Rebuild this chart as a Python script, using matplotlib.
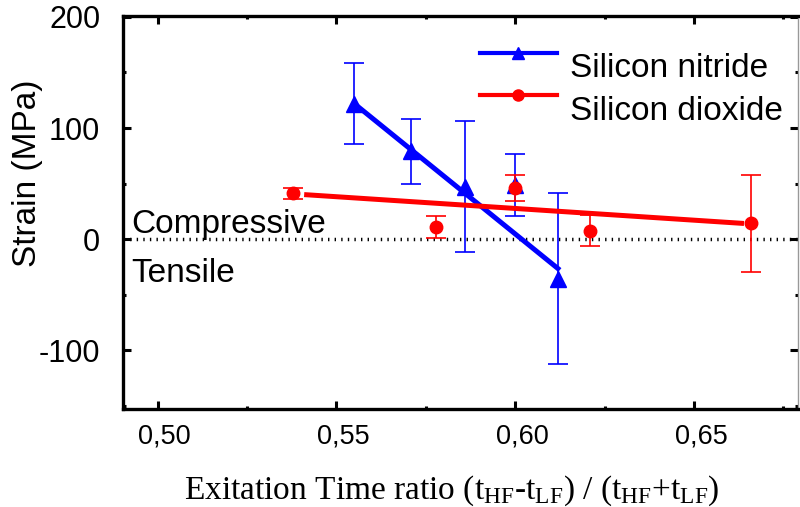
import matplotlib
matplotlib.use("Agg")
import matplotlib.pyplot as plt
import matplotlib.transforms as mtransforms
from matplotlib.lines import Line2D
from matplotlib.ticker import MultipleLocator, FixedLocator

plt.rcParams['font.family'] = ['Liberation Sans', 'DejaVu Sans']
plt.rcParams['mathtext.fontset'] = 'custom'
plt.rcParams['mathtext.rm'] = 'Liberation Serif'
plt.rcParams['mathtext.it'] = 'Liberation Serif:italic'
plt.rcParams['axes.unicode_minus'] = False

# ---- data ----
nitride_x = [0.555, 0.571, 0.586, 0.600, 0.612]
nitride_y = [122, 79, 47, 49, -36]
nitride_err = [36.5, 29, 59, 28, 77]
nitride_fit_x = [0.555, 0.6125]
nitride_fit_y = [122, -28]

dioxide_x = [0.538, 0.578, 0.600, 0.621, 0.666]
dioxide_y = [41, 11, 46, 7.5, 14]
dioxide_err = [5, 10, 12, 14, 44]
dioxide_fit_x = [0.541, 0.664]
dioxide_fit_y = [40, 14]

x_ticks = [0.50, 0.55, 0.60, 0.65]
x_ticklabels = ['0,50', '0,55', '0,60', '0,65']
y_ticks = [-100, 0, 100, 200]
labels = ['Silicon nitride', 'Silicon dioxide']

BLUE = '#0000ff'
RED = '#ff0000'

fig = plt.figure(figsize=(8.0, 5.07), dpi=100)
ax = fig.add_axes([122.5/800, 1-408.5/507, (798-122.5)/800, (408.5-16)/507])

# zero line
ax.axhline(0, color='black', lw=2.5, ls=(0, (0.4, 1.5)), zorder=1)

# nitride
ax.plot(nitride_fit_x, nitride_fit_y, color=BLUE, lw=3.6, zorder=2, solid_capstyle='butt')
ax.errorbar(nitride_x, nitride_y, yerr=nitride_err, fmt='^', color=BLUE, ms=11,
            elinewidth=1.2, capsize=7, capthick=1.2, zorder=3)
# dioxide
ax.plot(dioxide_fit_x, dioxide_fit_y, color=RED, lw=3.6, zorder=4, solid_capstyle='butt')
ax.errorbar(dioxide_x, dioxide_y, yerr=dioxide_err, fmt='o', color=RED, ms=9,
            elinewidth=1.2, capsize=7, capthick=1.2, zorder=5)

ax.set_xlim(0.4902, 0.6791)
ax.set_ylim(-152.7, 200.9)

ax.xaxis.set_major_locator(FixedLocator(x_ticks))
ax.set_xticklabels(x_ticklabels)
ax.xaxis.set_minor_locator(MultipleLocator(0.025))
ax.yaxis.set_major_locator(FixedLocator(y_ticks))
ax.yaxis.set_minor_locator(MultipleLocator(50))

ax.tick_params(which='both', direction='in', top=True, right=True, width=2.2, color='black')
ax.tick_params(which='major', length=5.5)
ax.tick_params(which='minor', length=2.5)
ax.tick_params(axis='y', which='major', labelsize=22, pad=16)
ax.tick_params(axis='x', which='major', labelsize=19.5, pad=11)

offset = mtransforms.ScaledTranslation(7/100, 0, fig.dpi_scale_trans)
for lab in ax.get_xticklabels():
    lab.set_transform(lab.get_transform() + offset)

for s in ['left', 'bottom', 'top']:
    ax.spines[s].set_linewidth(2.4)
    ax.spines[s].set_color('black')
ax.spines['right'].set_linewidth(1.0)
ax.spines['right'].set_color('#999999')

ax.set_ylabel('Strain (MPa)', fontsize=24)
ax.yaxis.set_label_coords(-0.141, 0.60)
ax.yaxis.label.set_va('center')

ax.set_xlabel(r'Exitation Time ratio (t$_{\rm HF}$-t$_{\rm LF}$) / (t$_{\rm HF}$+t$_{\rm LF}$)',
              fontsize=24, family='Liberation Serif')
ax.xaxis.set_label_coords(0.488, -0.21)
ax.xaxis.label.set_va('center')

ax.text(0.0136, 0.447, 'Compressive', transform=ax.transAxes, fontsize=24, va='baseline', ha='left')
ax.text(0.0136, 0.323, 'Tensile', transform=ax.transAxes, fontsize=24, va='baseline', ha='left')

handles = [Line2D([], [], color=BLUE, lw=3, marker='^', ms=9),
           Line2D([], [], color=RED, lw=3, marker='o', ms=8)]
leg = ax.legend(handles, labels, loc='upper left', bbox_to_anchor=(0.529, 0.905),
                frameon=False, fontsize=24, handlelength=2.3, handletextpad=0.4,
                labelspacing=0.34, borderpad=0, borderaxespad=0, numpoints=1)
for h in leg.legend_handles:
    h.set_ydata([y + 9 for y in h.get_ydata()])

fig.savefig('out.png', dpi=100)
